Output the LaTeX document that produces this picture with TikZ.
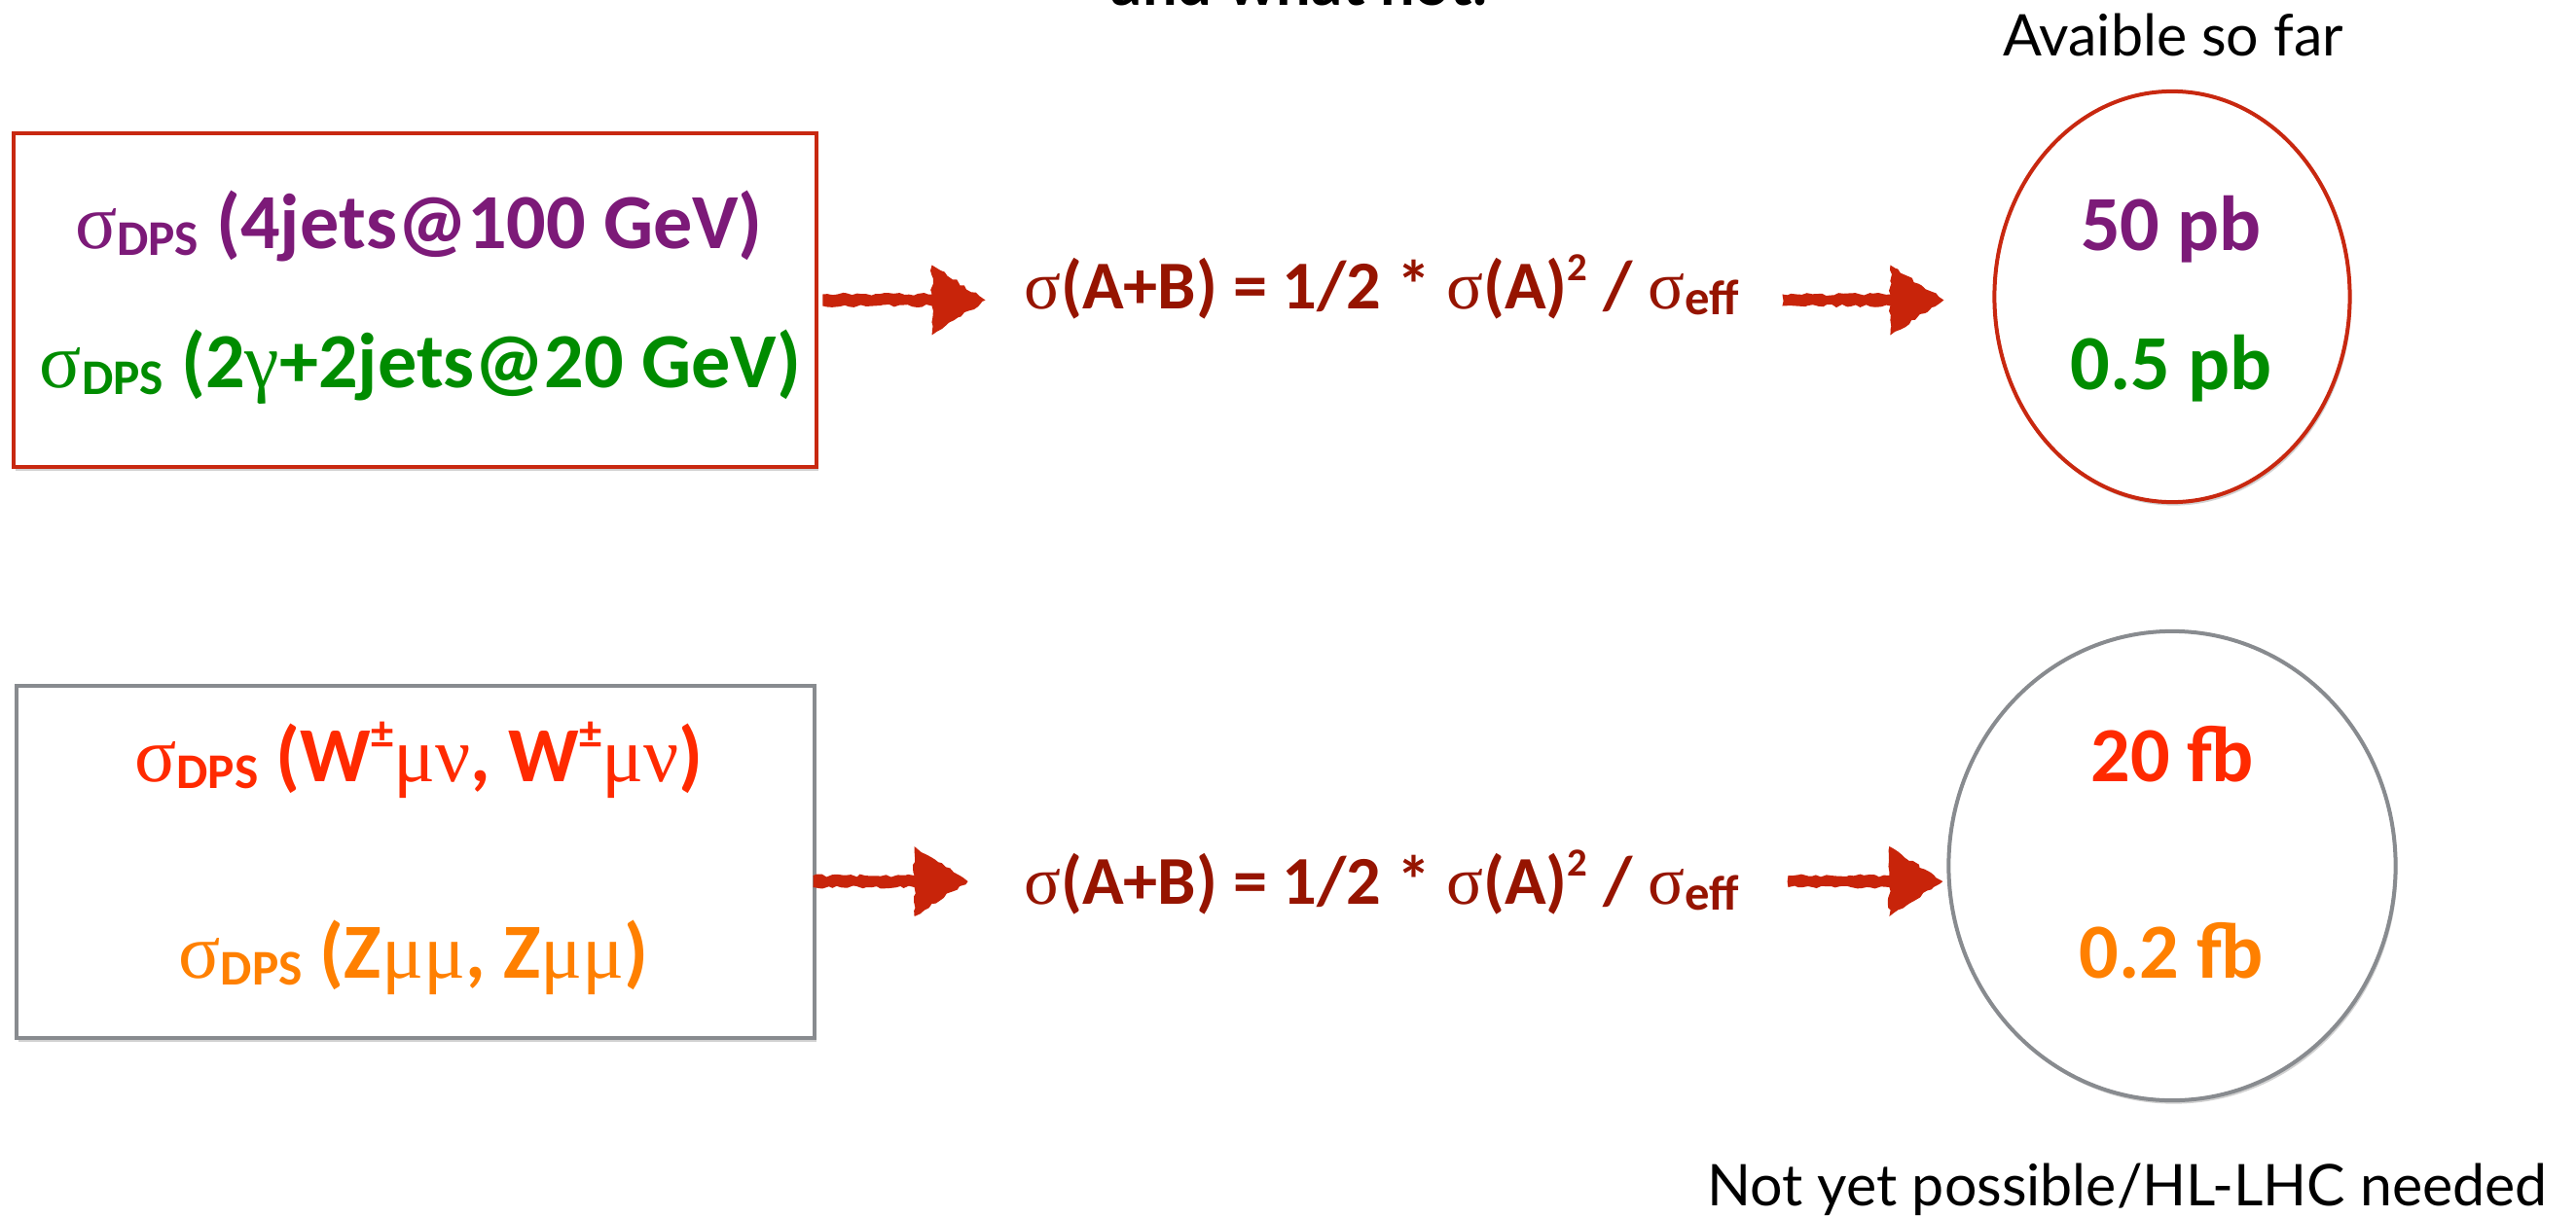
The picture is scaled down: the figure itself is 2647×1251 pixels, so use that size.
\documentclass[tikz,border=0pt]{standalone}
\usepackage{fontspec}
\usepackage{graphicx}
\setmainfont{Carlito}
\newfontfamily\symfont{Liberation Serif}
\newfontfamily\gillfont{Lato}
\usetikzlibrary{shapes.geometric,calc,decorations.pathmorphing,shadows}

\definecolor{dpsPurple}{RGB}{124,26,120}
\definecolor{dpsGreen}{RGB}{0,140,0}
\definecolor{dpsRed}{RGB}{255,42,0}
\definecolor{dpsOrange}{RGB}{255,128,0}
\definecolor{formulaRed}{RGB}{150,20,0}
\definecolor{brushRed}{RGB}{200,36,10}
\definecolor{frameRed}{RGB}{200,40,16}
\definecolor{frameGray}{RGB}{136,139,143}

% Greek letters in a serif face, upright and not bold
\newcommand\sig{{\symfont\mdseries σ}}
\newcommand\gsym[1]{{\symfont\mdseries #1}}
\newcommand\subtxt[2][0.64]{\raisebox{-0.09em}{\scalebox{#1}{#2}}}
\newcommand\suptxt[2][0.6]{\raisebox{#1em}{\scalebox{0.58}{#2}}}

% hand-painted looking arrow from #1 to the tip #2
\newcommand\brusharrow[2]{%
  \fill[brushRed, decorate, decoration={random steps, segment length=1.4pt, amplitude=0.45pt}]
    ($(#1)+(0,-6)$) -- ($(#2)+(-55,-6)$) -- ($(#2)+(-55,-36)$) -- (#2)
    -- ($(#2)+(-55,36)$) -- ($(#2)+(-55,6)$) -- ($(#1)+(0,6)$) -- cycle;}

\tikzset{
  softshadow/.style={drop shadow={shadow xshift=0.5pt, shadow yshift=-1pt, opacity=0.18, fill=black}},
  frame/.style={rectangle, fill=white, line width=0.045cm, inner sep=0, softshadow},
  oval/.style={ellipse, fill=white, line width=0.04cm, inner sep=0, softshadow},
  big/.style={font=\fontsize{22.8pt}{26pt}\selectfont\bfseries, anchor=base, inner sep=0},
  fml/.style={font=\fontsize{20pt}{24pt}\selectfont\bfseries, text=formulaRed, anchor=base, inner sep=0},
  note/.style={font=\gillfont\fontsize{16.8pt}{20pt}\selectfont, anchor=base, inner sep=0},
}

\begin{document}
\begin{tikzpicture}[x=0.01cm, y=-0.01cm]
\useasboundingbox (0,0) rectangle (2647,1251);
\clip (0,0) rectangle (2647,1251);
\fill[white] (0,0) rectangle (2647,1251);

% heading line, mostly above the visible area
\node[note, font=\gillfont\bfseries\fontsize{18pt}{21pt}\selectfont] (head) at (1335,5) {and what not.};

% frames
\node[frame, draw=frameRed, minimum width=8.25cm, minimum height=3.43cm] (box1) at (426.5,308.5) {};
\node[frame, draw=frameGray, minimum width=8.20cm, minimum height=3.62cm] (box2) at (427,886) {};
\node[oval, draw=frameRed, minimum width=3.65cm, minimum height=4.22cm] (e1) at (2232,305) {};
\node[oval, draw=frameGray, minimum width=4.59cm, minimum height=4.82cm] (e2) at (2232,890) {};

% process names
\node[big, text=dpsPurple] (t1a) at (430.5,255) {\sig\subtxt{DPS} (4jets@100 GeV)};
\node[big, text=dpsGreen] (t1b) at (432,398) {\sig\subtxt{DPS} (2\gsym{γ}+2jets@20 GeV)};
\node[big, text=dpsRed] (t2a) at (430.5,803) {\sig\subtxt{DPS} (W\suptxt[0.42]{±}\gsym{μν}, W\suptxt[0.42]{±}\gsym{μν})};
\node[big, text=dpsOrange] (t2b) at (425,1005) {\sig\subtxt{DPS} (Z\gsym{μμ}, Z\gsym{μμ})};

% pocket formula
\node[fml] (f1) at (1419.5,317) {\sig(A+B) = 1/2 * \sig(A)\suptxt[0.41]{2} / \sig\subtxt[0.72]{eff}};
\node[fml] (f2) at (1419.5,929) {\sig(A+B) = 1/2 * \sig(A)\suptxt[0.41]{2} / \sig\subtxt[0.72]{eff}};

% resulting cross sections
\node[big, text=dpsPurple] (v1a) at (2231,257) {50 pb};
\node[big, text=dpsGreen] (v1b) at (2231,400) {0.5 pb};
\node[big, text=dpsRed] (v2a) at (2232,803) {20 fb};
\node[big, text=dpsOrange] (v2b) at (2231,1005) {0.2 fb};

% captions
\node[note] (lab1) at (2233,57) {Avaible so far};
\node[note] (lab2) at (2186,1239) {Not yet possible/HL-LHC needed};

% arrow end points
\coordinate (a1s) at ($(box1.east)+(4,0)$);
\coordinate (a1t) at ($(a1s -| f1.west)+(-39,0)$);
\coordinate (a2s) at ($(a1s -| f1.east)+(44,0)$);
\coordinate (a2t) at ($(a1s -| e1.west)+(-50,0)$);
\coordinate (a3s) at ($(box2.east)+(-4,20)$);
\coordinate (a3t) at ($(a3s -| f2.west)+(-57,0)$);
\coordinate (a4s) at ($(a3s -| f2.east)+(50,0)$);
\coordinate (a4t) at ($(a3s -| e2.west)+(-4,0)$);

\pgfmathsetseed{7}
\brusharrow{a1s}{a1t}
\brusharrow{a2s}{a2t}
\brusharrow{a3s}{a3t}
\brusharrow{a4s}{a4t}
\end{tikzpicture}
\end{document}
